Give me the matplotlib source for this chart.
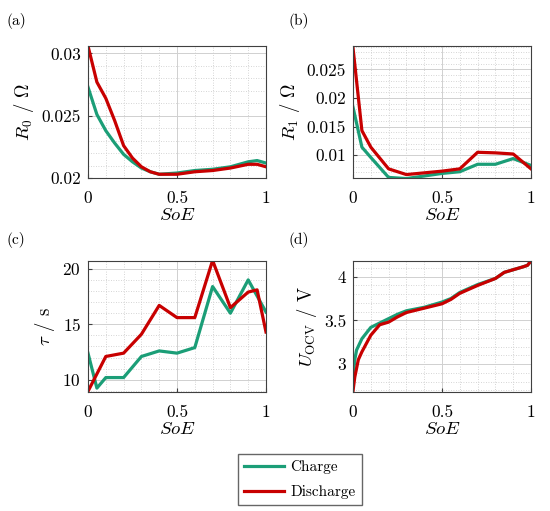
import numpy as np
import matplotlib
matplotlib.use("Agg")
import matplotlib.pyplot as plt
from matplotlib.ticker import MultipleLocator

plt.rcParams["font.family"] = "serif"
plt.rcParams["font.serif"] = ["cmr10"]
plt.rcParams["mathtext.fontset"] = "cm"
plt.rcParams["axes.formatter.use_mathtext"] = True
plt.rcParams["axes.unicode_minus"] = False

green = "#1b9e77"
red = "#c80000"

# (a) R0
soe_a = [0, 0.05, 0.1, 0.15, 0.2, 0.25, 0.3, 0.35, 0.4, 0.5, 0.6, 0.7, 0.8, 0.9, 0.95, 1.0]
r0_ch = [0.0273, 0.0251, 0.0238, 0.0228, 0.0219, 0.0213, 0.0208, 0.0205, 0.0203, 0.0204,
         0.0206, 0.0207, 0.0209, 0.0213, 0.0214, 0.0212]
r0_dis = [0.0306, 0.0277, 0.0264, 0.0246, 0.0226, 0.0216, 0.0209, 0.0205, 0.0203, 0.0203,
          0.0205, 0.0206, 0.0208, 0.0211, 0.0211, 0.0209]

# (b) R1
soe_b = [0, 0.05, 0.1, 0.2, 0.3, 0.5, 0.6, 0.7, 0.8, 0.9, 1.0]
r1_ch = [0.0184, 0.0114, 0.0096, 0.0061, 0.0059, 0.0068, 0.0071, 0.0084, 0.0084, 0.0094, 0.0082]
r1_dis = [0.0288, 0.0143, 0.0114, 0.0076, 0.0066, 0.0072, 0.0076, 0.0105, 0.0104, 0.0102, 0.0076]

# (c) tau
soe_c_ch = [0, 0.05, 0.1, 0.2, 0.3, 0.4, 0.5, 0.6, 0.7, 0.8, 0.9, 1.0]
tau_ch = [12.4, 9.25, 10.2, 10.2, 12.1, 12.6, 12.4, 12.9, 18.4, 16.0, 19.0, 16.1]
soe_c_dis = [0, 0.1, 0.2, 0.3, 0.4, 0.5, 0.6, 0.7, 0.8, 0.9, 0.95, 1.0]
tau_dis = [8.96, 12.1, 12.4, 14.1, 16.7, 15.6, 15.6, 20.75, 16.5, 17.9, 18.1, 14.3]

# (d) OCV
soe_d_ch = [0, 0.01, 0.02, 0.05, 0.1, 0.15, 0.2, 0.25, 0.3, 0.4, 0.5, 0.55, 0.6, 0.7, 0.8, 0.85,
            0.9, 0.95, 0.98, 1.0]
ocv_ch = [2.85, 3.05, 3.16, 3.29, 3.42, 3.47, 3.52, 3.57, 3.61, 3.65, 3.71, 3.75, 3.82, 3.91,
          3.98, 4.05, 4.08, 4.11, 4.13, 4.18]
soe_d_dis = [0, 0.01, 0.03, 0.05, 0.1, 0.15, 0.2, 0.25, 0.3, 0.4, 0.5, 0.55, 0.6, 0.7, 0.8,
             0.85, 0.9, 0.95, 0.98, 1.0]
ocv_dis = [2.69, 2.85, 3.05, 3.14, 3.33, 3.45, 3.48, 3.54, 3.59, 3.64, 3.69, 3.74, 3.81, 3.90,
           3.98, 4.05, 4.08, 4.11, 4.13, 4.18]

fig = plt.figure(figsize=(5.5, 5.11), dpi=100)
W, H = 550, 511
def ax_at(l, t, r, b):
    return fig.add_axes([l / W, 1 - b / H, (r - l) / W, (b - t) / H])

ax_a = ax_at(88, 46, 266, 178)
ax_b = ax_at(353, 46, 531, 178)
ax_c = ax_at(88, 261, 266, 392)
ax_d = ax_at(353, 261, 531, 392)

lw = 2.3
ax_a.plot(soe_a, r0_ch, color=green, lw=lw, label="Charge")
ax_a.plot(soe_a, r0_dis, color=red, lw=lw, label="Discharge")
ax_a.set_ylim(0.02, 0.0306)
ax_a.set_yticks([0.02, 0.025, 0.03])
ax_a.set_yticklabels(["0.02", "0.025", "0.03"])
ax_a.yaxis.set_minor_locator(MultipleLocator(0.001))
ax_a.set_ylabel(r"$R_0$ / $\Omega$", fontsize=13.5)

ax_b.plot(soe_b, r1_ch, color=green, lw=lw)
ax_b.plot(soe_b, r1_dis, color=red, lw=lw)
ax_b.set_ylim(0.006, 0.0291)
ax_b.set_yticks([0.01, 0.015, 0.02, 0.025])
ax_b.set_yticklabels(["0.01", "0.015", "0.02", "0.025"])
ax_b.yaxis.set_minor_locator(MultipleLocator(0.001))
ax_b.set_ylabel(r"$R_1$ / $\Omega$", fontsize=13.5)

ax_c.plot(soe_c_ch, tau_ch, color=green, lw=lw)
ax_c.plot(soe_c_dis, tau_dis, color=red, lw=lw)
ax_c.set_ylim(8.9, 20.7)
ax_c.set_yticks([10, 15, 20])
ax_c.yaxis.set_minor_locator(MultipleLocator(1))
ax_c.set_ylabel(r"$\tau$ / s", fontsize=13.5)

ax_d.plot(soe_d_ch, ocv_ch, color=green, lw=lw)
ax_d.plot(soe_d_dis, ocv_dis, color=red, lw=lw)
ax_d.set_ylim(2.68, 4.18)
ax_d.set_yticks([3, 3.5, 4])
ax_d.set_yticklabels(["3", "3.5", "4"])
ax_d.yaxis.set_minor_locator(MultipleLocator(0.1))
ax_d.set_ylabel(r"$U_{\mathrm{OCV}}$ / V", fontsize=13.5)

# ylabel right-edge x (pixels), panel tag positions
ylab_x = {"(a)": 36, "(b)": 302, "(c)": 57, "(d)": 319}
tag_pos = {"(a)": (7, 21), "(b)": (288, 21), "(c)": (7, 240), "(d)": (288, 240)}
for ax, tag in zip([ax_a, ax_b, ax_c, ax_d], ["(a)", "(b)", "(c)", "(d)"]):
    ax.set_xlim(0, 1)
    ax.set_xticks([0, 0.5, 1])
    ax.set_xticklabels(["0", "0.5", "1"])
    ax.xaxis.set_minor_locator(MultipleLocator(0.1))
    ax.set_xlabel(r"$SoE$", fontsize=13.5, labelpad=0)
    left = 88 if tag in ("(a)", "(c)") else 353
    ax.yaxis.set_label_coords((ylab_x[tag] - left) / 178, 0.5)
    ax.grid(which="major", color="#d0d0d0", lw=0.7)
    ax.grid(which="minor", color="#c8c8c8", lw=0.6, ls=(0, (1, 2)))
    ax.set_axisbelow(True)
    ax.tick_params(which="both", direction="in", labelsize=12.5, length=3, color="#404040")
    ax.tick_params(axis="x", pad=9)
    ax.tick_params(axis="y", pad=5)
    ax.tick_params(which="minor", length=0)
    for s in ax.spines.values():
        s.set_color("#404040")
        s.set_linewidth(0.8)
    tx, ty = tag_pos[tag]
    fig.text(tx / W, 1 - ty / H, tag, fontsize=11, va="center", ha="left")

handles, labels = ax_a.get_legend_handles_labels()
fig.legend(handles, labels, loc="center", bbox_to_anchor=(300 / W, 1 - 479.5 / H),
           fontsize=11, frameon=True, fancybox=False, edgecolor="#404040",
           handlelength=2.6, handletextpad=0.4, labelspacing=0.7, borderpad=0.4,
           borderaxespad=0)

fig.savefig("out.png", dpi=100)
